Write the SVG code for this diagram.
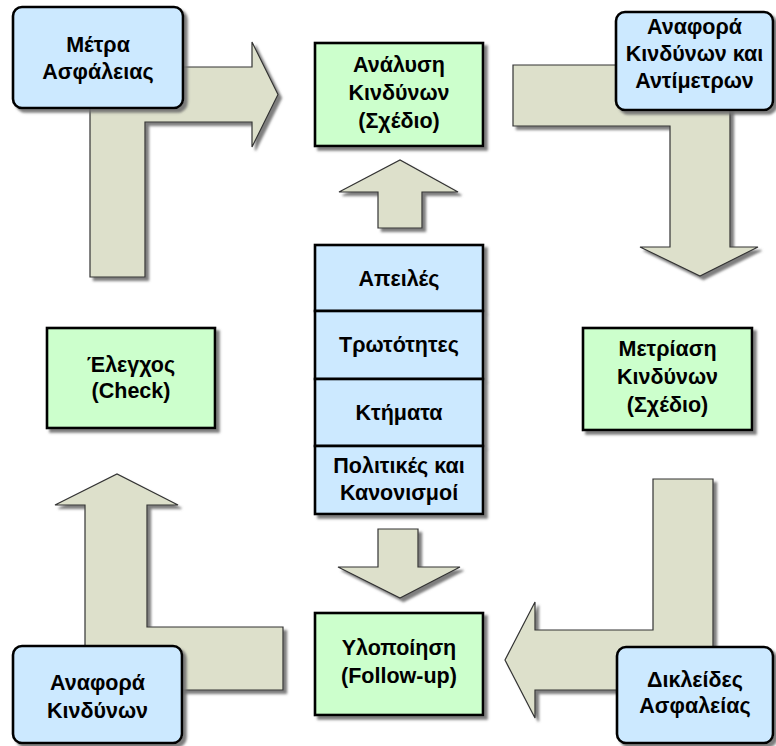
<svg xmlns="http://www.w3.org/2000/svg" width="776" height="746" viewBox="0 0 776 746">
  <defs>
    <filter id="shadow" x="-10%" y="-10%" width="130%" height="130%">
      <feDropShadow dx="3.5" dy="3.5" stdDeviation="1" flood-color="#707070" flood-opacity="0.9"/>
    </filter>
  </defs>
  <style>
    .arrow { fill: #dde0cb; stroke: #333; stroke-width: 1.2; stroke-linejoin: miter; filter: url(#shadow); }
    .blue { fill: #cce9ff; stroke: #000; stroke-width: 2.6; filter: url(#shadow); }
    .green { fill: #ccffcc; stroke: #000; stroke-width: 2.6; filter: url(#shadow); }
    .cell { fill: #cce9ff; stroke: #000; stroke-width: 2.6; }
    text { font-family: "Liberation Sans", Arial, sans-serif; font-weight: bold; font-size: 21.5px; fill: #000; text-anchor: middle; }
  </style>
  <rect width="776" height="746" fill="#fff"/>

  <!-- block arrows -->
  <g id="connectors">
    <polygon class="arrow" points="90,67 252,67 252,42 278,94.5 252,147 252,122 145,122 145,277 90,277"/>
    <polygon class="arrow" points="513,65 730,65 730,247 758,247 700,276 640,247 670,247 670,126 513,126"/>
    <polygon class="arrow" points="378,228 378,192 339,192 400,160 458,192 422,192 422,228"/>
    <polygon class="arrow" points="378,529 418,529 418,567 460,567 400,598 338,567 378,567"/>
    <polygon class="arrow" points="653,479 713,479 713,690 535,690 535,718 505,660 535,602 535,630 653,630"/>
    <polygon class="arrow" points="85,690 85,505 55,505 117,474 178,505 147,505 147,627 283,627 283,690"/>
  </g>

  <g id="metra-asfaleias">
    <rect class="blue" x="13" y="7" width="170" height="101" rx="9"/>
    <text x="98" y="52">Μέτρα</text>
    <text x="98" y="79">Ασφάλειας</text>
  </g>

  <g id="analysi-kindynon">
    <rect class="green" x="315" y="43" width="168" height="103"/>
    <text x="399" y="72">Ανάλυση</text>
    <text x="399" y="100">Κινδύνων</text>
    <text x="399" y="128">(Σχέδιο)</text>
  </g>

  <g id="anafora-antimetron">
    <rect class="blue" x="616" y="12" width="157" height="98" rx="9"/>
    <text x="694.5" y="34">Αναφορά</text>
    <text x="694.5" y="61">Κινδύνων και</text>
    <text x="694.5" y="88">Αντίμετρων</text>
  </g>

  <g id="stack">
    <g filter="url(#shadow)">
      <rect class="cell" x="315" y="245" width="168" height="66"/>
      <rect class="cell" x="315" y="311" width="168" height="68"/>
      <rect class="cell" x="315" y="379" width="168" height="67"/>
      <rect class="cell" x="315" y="446" width="168" height="68"/>
    </g>
    <text x="399" y="286">Απειλές</text>
    <text x="399" y="352">Τρωτότητες</text>
    <text x="399" y="420">Κτήματα</text>
    <text x="399" y="473">Πολιτικές και</text>
    <text x="399" y="500">Κανονισμοί</text>
  </g>

  <g id="elegxos">
    <rect class="green" x="47" y="328" width="168" height="100"/>
    <text x="131" y="372">Έλεγχος</text>
    <text x="131" y="398">(Check)</text>
  </g>

  <g id="metriasi-kindynon">
    <rect class="green" x="583" y="328" width="169" height="102"/>
    <text x="667.5" y="356">Μετρίαση</text>
    <text x="667.5" y="384">Κινδύνων</text>
    <text x="667.5" y="412">(Σχέδιο)</text>
  </g>

  <g id="ylopoiisi">
    <rect class="green" x="315" y="613" width="168" height="102"/>
    <text x="399" y="655">Υλοποίηση</text>
    <text x="399" y="683">(Follow-up)</text>
  </g>

  <g id="anafora-kindynon">
    <rect class="blue" x="13" y="646" width="169" height="97" rx="9"/>
    <text x="97.5" y="690">Αναφορά</text>
    <text x="97.5" y="718">Κινδύνων</text>
  </g>

  <g id="dikleides-asfaleias">
    <rect class="blue" x="617" y="647" width="156" height="96" rx="9"/>
    <text x="695" y="687">Δικλείδες</text>
    <text x="695" y="713">Ασφαλείας</text>
  </g>
</svg>
